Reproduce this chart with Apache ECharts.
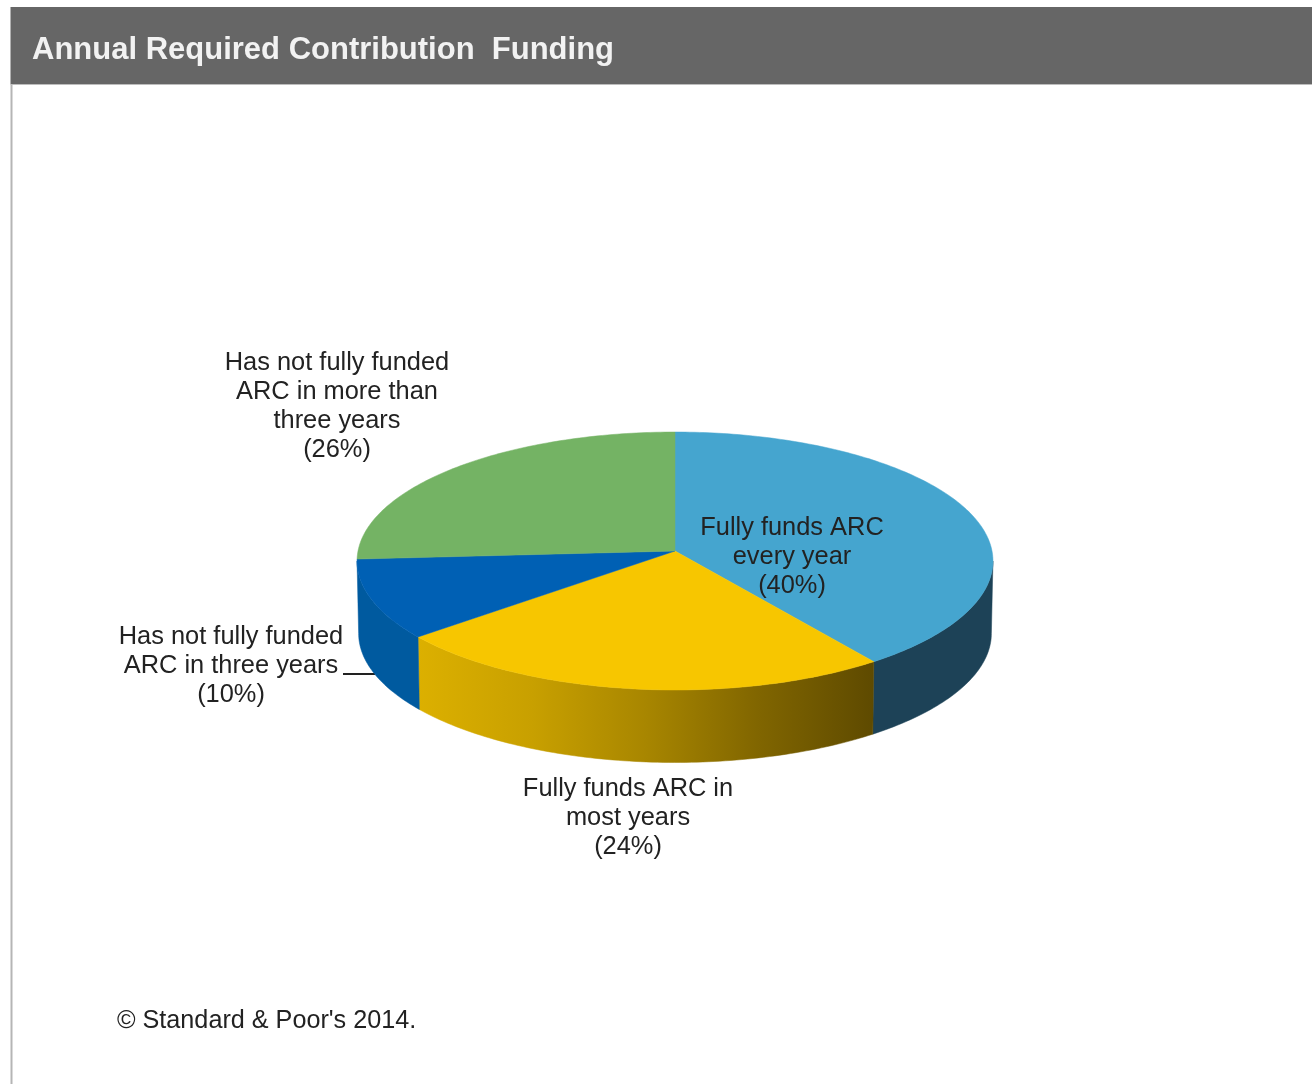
<!DOCTYPE html>
<html>
<head>
<meta charset="utf-8">
<title>Annual Required Contribution Funding</title>
<style>
  html, body { margin: 0; padding: 0; background: #fff; }
  #chart { width: 1312px; height: 1084px; }
</style>
<script src="https://cdn.jsdelivr.net/npm/echarts@6/dist/echarts.min.js"></script>
</head>
<body>
<div id="chart"></div>
<script>
// Funding categories, clockwise from twelve o'clock
const categories = [
  'Fully funds ARC\nevery year',
  'Fully funds ARC in\nmost years',
  'Has not fully funded\nARC in three years',
  'Has not fully funded\nARC in more than\nthree years'
];
const shares = [40, 24, 10, 26];

const titleText = 'Annual Required Contribution  Funding';
const sourceText = '\u00A9 Standard & Poor\'s 2014.';

const faceColors = ['#45a5cf', '#f7c600', '#0060b4', '#74b364'];
const sideColors = ['#1d4257', null, '#005a9f', null];
const labelCenters = [[792, 557], [628, 818], [231, 666], [337, 406]];

const FONT = '"Liberation Sans", Arial, sans-serif';

// Tilted disc seen in perspective: a circle projected about its hub
const DISC = { cx: 675, cy: 551, a: 317, b: 128.2, k: 0.0775, depth: 72.5 };
const total = shares.reduce((s, v) => s + v, 0);

function rimPoint(theta, drop) {
  const u = Math.sin(theta), v = Math.cos(theta);
  const w = 1 + DISC.k * v;
  const squeeze = drop ? 0.995 : 1;
  return [
    DISC.cx + squeeze * DISC.a * u / w,
    DISC.cy - DISC.b * v / w + drop
  ];
}

function sweep(index) {
  let before = 0;
  for (let i = 0; i < index; i++) before += shares[i];
  return [before / total * 2 * Math.PI, (before + shares[index]) / total * 2 * Math.PI];
}

function rim(start, end, drop) {
  const pts = [];
  const steps = Math.max(8, Math.ceil((end - start) * 60));
  for (let i = 0; i <= steps; i++) pts.push(rimPoint(start + (end - start) * i / steps, drop));
  return pts;
}

const yellowSide = new echarts.graphic.LinearGradient(0, 0, 1, 0, [
  { offset: 0, color: '#dcb000' },
  { offset: 0.25, color: '#c8a000' },
  { offset: 0.5, color: '#a88600' },
  { offset: 0.75, color: '#806500' },
  { offset: 1, color: '#5e4a00' }
]);

// The wall is visible between the two points where the rim turns back on itself
const wallStart = Math.acos(-DISC.k);
const wallEnd = 2 * Math.PI - wallStart;

function renderSide(params, api) {
  const i = api.value(0);
  const range = sweep(i);
  const fill = sideColors[i] || yellowSide;
  const start = Math.max(range[0], wallStart);
  const end = Math.min(range[1], wallEnd);
  if (end <= start) return null;
  const points = rim(start, end, 0).concat(rim(start, end, DISC.depth).reverse());
  return { type: 'polygon', shape: { points }, style: { fill, stroke: fill, lineWidth: 0.5 } };
}

function renderFace(params, api) {
  const i = api.value(0);
  const range = sweep(i);
  const points = [[DISC.cx, DISC.cy]].concat(rim(range[0], range[1], 0));
  return { type: 'polygon', shape: { points }, style: { fill: faceColors[i], stroke: faceColors[i], lineWidth: 0.5 } };
}

function renderLabel(params, api) {
  const i = api.value(0);
  return {
    type: 'text',
    style: {
      text: categories[i] + '\n(' + api.value(1) + '%)',
      x: labelCenters[i][0],
      y: labelCenters[i][1],
      align: 'center',
      verticalAlign: 'middle',
      fontFamily: FONT,
      fontSize: 25.4,
      lineHeight: 29,
      fill: '#222'
    }
  };
}

const rows = shares.map((v, i) => [i, v]);
const chart = echarts.init(document.getElementById('chart'), null, { renderer: 'canvas' });

chart.setOption({
  animation: false,
  backgroundColor: '#fff',
  title: {
    text: titleText,
    left: 32,
    top: 32,
    padding: 0,
    textStyle: { color: '#f2f2f2', fontFamily: FONT, fontWeight: 'bold', fontSize: 31, lineHeight: 36 },
    z: 10
  },
  graphic: [
    { type: 'rect', shape: { x: 10.5, y: 84, width: 2, height: 1000 }, style: { fill: '#b5b5b5' }, z: 1 },
    { type: 'rect', shape: { x: 10.5, y: 7, width: 1301.5, height: 77 }, style: { fill: '#666666' }, z: 1 },
    { type: 'rect', shape: { x: 10.5, y: 84, width: 1301.5, height: 1 }, style: { fill: '#bdbdbd' }, z: 1 },
    { type: 'line', shape: { x1: 343, y1: 674, x2: 375, y2: 674 }, style: { stroke: '#222', lineWidth: 2 }, z: 1 },
    {
      type: 'text', x: 117, y: 1021,
      style: {
        text: sourceText, fontFamily: FONT, fontSize: 25.2, fill: '#222',
        align: 'left', verticalAlign: 'middle'
      },
      z: 1
    }
  ],
  series: [
    { type: 'custom', coordinateSystem: 'none', silent: true, data: rows, renderItem: renderSide, z: 2 },
    { type: 'custom', coordinateSystem: 'none', silent: true, data: rows, renderItem: renderFace, z: 3 },
    { type: 'custom', coordinateSystem: 'none', silent: true, data: rows, renderItem: renderLabel, z: 4 }
  ]
});
</script>
</body>
</html>
